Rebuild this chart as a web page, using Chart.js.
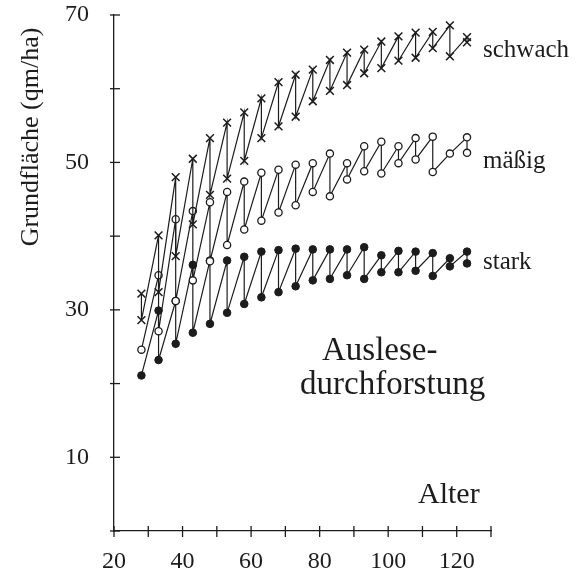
<!DOCTYPE html>
<html>
<head>
<meta charset="utf-8">
<script src="https://cdn.jsdelivr.net/npm/chart.js@4/dist/chart.umd.min.js"></script>
<style>
  html, body { margin: 0; padding: 0; background: #fff; }
  #wrap { width: 577px; height: 576px; position: relative; }
</style>
</head>
<body>
<div id="wrap"><canvas id="grundChart"></canvas></div>
<script>
// Alter (Jahre) der Durchforstungen
const ages = [28, 33, 38, 43, 48, 53, 58, 63, 68, 73, 78, 83, 88, 93, 98, 103, 108, 113, 118, 123];

// Grundfläche vor (High) und nach (Low) der Durchforstung, qm/ha
const schwachHigh = [32.2, 40.1, 48.0, 50.5, 53.3, 55.4, 56.8, 58.7, 60.9, 61.9, 62.6, 63.9, 64.9, 65.3, 66.4, 67.1, 67.6, 67.7, 68.6, 67.0];
const schwachLow  = [28.6, 32.4, 37.3, 41.6, 45.6, 47.8, 50.2, 53.3, 54.9, 56.2, 58.3, 59.7, 60.5, 62.1, 62.8, 63.8, 64.2, 65.5, 64.4, 66.3];

const maessigHigh = [null, 34.7, 42.3, 43.4, 44.6, 46.0, 47.4, 48.6, 49.0, 49.7, 49.9, 51.2, 49.9, 52.2, 52.8, 52.2, 53.3, 53.5, null, 53.4];
const maessigLow  = [24.6, 27.1, 31.2, 34.0, 36.6, 38.8, 40.9, 42.1, 43.2, 44.2, 46.0, 45.4, 47.7, 48.8, 48.5, 49.9, 50.4, 48.7, 51.2, 51.3];

const starkHigh = [null, 29.9, 31.2, 36.1, 36.7, 36.7, 37.2, 37.9, 38.1, 38.3, 38.2, 38.2, 38.2, 38.5, 37.4, 38.0, 37.9, 37.7, 37.0, 37.9];
const starkLow  = [21.1, 23.2, 25.4, 26.9, 28.1, 29.6, 30.8, 31.7, 32.4, 33.2, 34.0, 34.2, 34.7, 34.2, 35.1, 35.1, 35.3, 34.6, 35.9, 36.3];

const seriesNames = ['schwach', 'mäßig', 'stark'];
const yTitle = 'Grundfläche (qm/ha)';
const xTitle = 'Alter';
const noteLines = ['Auslese-', 'durchforstung'];

const ink = '#1c1c1c';
const serif = '"Liberation Serif", "Times New Roman", serif';

// saw tooth: before thinning -> after thinning, then growth to next one
function sawtooth(high, low) {
    let pts = [];
    for (let i = 0; i < ages.length; i++) {
        if (high[i] != null) pts.push({x: ages[i], y: high[i]});
        if (low[i] != null) pts.push({x: ages[i], y: low[i]});
    }
    return pts;
}

const extras = {
    id: 'extras',
    afterDraw(chart) {
        const ctx = chart.ctx;
        const xs = chart.scales.x, ys = chart.scales.y;
        ctx.save();
        ctx.strokeStyle = ink;
        ctx.lineWidth = 1.3;
        // crossing tick marks
        xs.ticks.forEach(t => {
            const px = xs.getPixelForValue(t.value);
            ctx.beginPath();
            ctx.moveTo(px, ys.bottom - 5);
            ctx.lineTo(px, ys.bottom + 6);
            ctx.stroke();
        });
        ys.ticks.forEach(t => {
            const py = ys.getPixelForValue(t.value);
            ctx.beginPath();
            ctx.moveTo(xs.left - 4, py);
            ctx.lineTo(xs.left + 6, py);
            ctx.stroke();
        });

        ctx.fillStyle = ink;
        // y title
        ctx.save();
        ctx.translate(38, 137);
        ctx.rotate(-Math.PI / 2);
        ctx.font = '26px ' + serif;
        ctx.textAlign = 'center';
        ctx.textBaseline = 'alphabetic';
        ctx.fillText(yTitle, 0, 0);
        ctx.restore();

        ctx.textAlign = 'left';
        ctx.textBaseline = 'alphabetic';
        ctx.font = '25px ' + serif;
        ctx.fillText(seriesNames[0], 483, 57);
        ctx.fillText(seriesNames[1], 483, 168);
        ctx.fillText(seriesNames[2], 483, 269);

        ctx.font = '33px ' + serif;
        ctx.fillText(noteLines[0], 322, 360);
        ctx.fillText(noteLines[1], 300, 394);

        ctx.font = '30px ' + serif;
        ctx.fillText(xTitle, 418, 503);
        ctx.restore();
    }
};

const ctx = document.getElementById('grundChart').getContext('2d');
new Chart(ctx, {
    type: 'scatter',
    data: {
        datasets: [
            {
                label: seriesNames[0],
                data: sawtooth(schwachHigh, schwachLow),
                showLine: true,
                borderColor: ink,
                borderWidth: 1.2,
                pointStyle: 'crossRot',
                pointRadius: 5.5,
                pointBorderWidth: 1.5,
                pointBorderColor: ink,
                pointBackgroundColor: ink
            },
            {
                label: seriesNames[1],
                data: sawtooth(maessigHigh, maessigLow),
                showLine: true,
                borderColor: ink,
                borderWidth: 1.2,
                pointStyle: 'circle',
                pointRadius: 3.6,
                pointBorderWidth: 1.3,
                pointBorderColor: ink,
                pointBackgroundColor: '#fff'
            },
            {
                label: seriesNames[2],
                data: sawtooth(starkHigh, starkLow),
                showLine: true,
                borderColor: ink,
                borderWidth: 1.2,
                pointStyle: 'circle',
                pointRadius: 3.8,
                pointBorderWidth: 1,
                pointBorderColor: ink,
                pointBackgroundColor: ink
            }
        ]
    },
    options: {
        responsive: true,
        maintainAspectRatio: false,
        animation: false,
        layout: { padding: { top: 15, right: 86, left: 0, bottom: 0 } },
        plugins: {
            legend: { display: false },
            tooltip: { enabled: false }
        },
        scales: {
            x: {
                type: 'linear',
                min: 20,
                max: 130,
                grid: { display: false, drawTicks: false },
                border: { display: true, color: ink, width: 1.3 },
                ticks: {
                    stepSize: 10,
                    padding: 16,
                    color: ink,
                    maxRotation: 0,
                    autoSkip: false,
                    font: { family: serif, size: 24 },
                    callback: v => (v % 20 === 0 && v <= 120) ? v : ''
                },
                afterFit: s => { s.height = 45; s.paddingLeft = 0; s.paddingRight = 0; }
            },
            y: {
                min: 0,
                max: 70,
                grid: { display: false, drawTicks: false },
                border: { display: true, color: ink, width: 1.3 },
                ticks: {
                    stepSize: 10,
                    padding: 25,
                    color: ink,
                    autoSkip: false,
                    font: { family: serif, size: 24 },
                    callback: v => (v % 20 === 10) ? v : ''
                },
                afterFit: s => { s.width = 114; s.paddingTop = 0; s.paddingBottom = 0; }
            }
        }
    },
    plugins: [extras]
});
</script>
</body>
</html>
